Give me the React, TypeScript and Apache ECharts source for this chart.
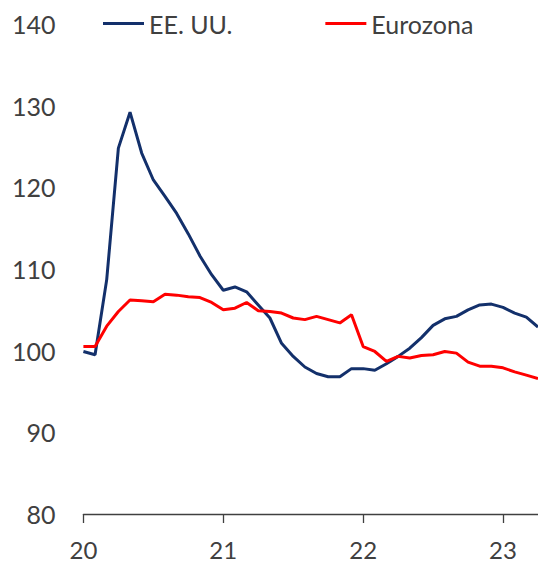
import React, { useEffect, useRef } from "react";
import * as echarts from "echarts";

const yearLabels = ["20", "21", "22", "23"];
const monthsShown = 40; // Jan 2020 .. Apr 2023
const seriesNames = ["EE. UU.", "Eurozona"];

const usValues = [
  99.9, 99.5, 108.7, 124.8, 129.2, 124.2, 120.9, 118.9, 116.8, 114.3, 111.6, 109.3,
  107.4, 107.8, 107.2, 105.6, 104.0, 100.9, 99.3, 98.0, 97.2, 96.8, 96.8, 97.8,
  97.8, 97.6, 98.4, 99.3, 100.3, 101.6, 103.1, 103.9, 104.2, 105.0, 105.6, 105.7,
  105.3, 104.6, 104.1, 102.9,
];

const euroValues = [
  100.5, 100.5, 103.0, 104.8, 106.2, 106.1, 106.0, 106.9, 106.8, 106.6, 106.5, 105.9,
  105.0, 105.2, 105.9, 104.9, 104.8, 104.6, 104.0, 103.8, 104.2, 103.8, 103.4, 104.4,
  100.5, 99.9, 98.7, 99.3, 99.1, 99.4, 99.5, 99.9, 99.7, 98.6, 98.1, 98.1,
  97.9, 97.4, 97.0, 96.6,
];

const categories: string[] = [];
for (let i = 0; i < monthsShown; i++) {
  const y = yearLabels[Math.floor(i / 12)];
  const m = (i % 12) + 1;
  categories.push(`${y}-${m < 10 ? "0" + m : m}`);
}

const FONT = "Lato";
const TEXT = "#404040";

export default function App() {
  const ref = useRef<HTMLDivElement>(null);
  useEffect(() => {
    if (!ref.current) return;
    const chart = echarts.init(ref.current, undefined, { renderer: "svg" });
    chart.setOption({
      animation: false,
      backgroundColor: "#ffffff",
      legend: {
        data: seriesNames,
        left: 103,
        top: 11,
        padding: 0,
        icon: "rect",
        itemWidth: 41,
        itemHeight: 3,
        itemGap: 93,
        textStyle: { fontFamily: FONT, fontSize: 25, color: TEXT },
      },
      grid: { left: 83.4, right: -4, top: 24, bottom: 48 },
      xAxis: {
        type: "category",
        data: categories,
        boundaryGap: false,
        axisLine: { lineStyle: { color: TEXT, width: 1.3 } },
        axisTick: {
          show: true,
          interval: (i: number) => i % 12 === 0,
          length: 9,
          lineStyle: { color: TEXT, width: 1.3 },
        },
        axisLabel: {
          interval: (i: number) => i % 12 === 0,
          formatter: (_v: string, i: number) => yearLabels[Math.floor(i / 12)],
          fontFamily: FONT,
          fontSize: 24,
          lineHeight: 24,
          color: TEXT,
          margin: 23,
        },
        splitLine: { show: false },
      },
      yAxis: {
        type: "value",
        min: 80,
        max: 140,
        interval: 10,
        axisLine: { show: false },
        axisTick: { show: false },
        splitLine: { show: false },
        axisLabel: { fontFamily: FONT, fontSize: 25, color: TEXT, margin: 28 },
      },
      series: [
        {
          name: seriesNames[0],
          type: "line",
          data: usValues,
          showSymbol: false,
          symbol: "none",
          lineStyle: { color: "#13306B", width: 3 },
          itemStyle: { color: "#13306B" },
        },
        {
          name: seriesNames[1],
          type: "line",
          data: euroValues,
          showSymbol: false,
          symbol: "none",
          lineStyle: { color: "#FF0000", width: 3 },
          itemStyle: { color: "#FF0000" },
        },
      ],
    });
    return () => chart.dispose();
  }, []);
  return (
    <div
      ref={ref}
      style={{ position: "fixed", left: 0, top: 0, width: 538, height: 562 }}
    />
  );
}
